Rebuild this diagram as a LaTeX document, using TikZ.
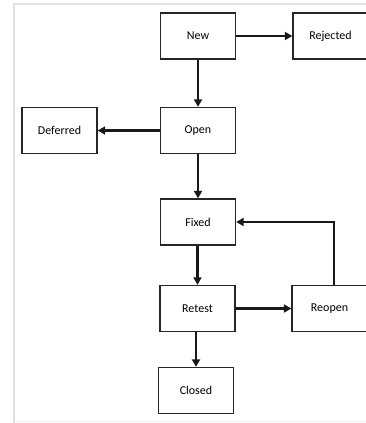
\documentclass[tikz,border=0pt]{standalone}
\usepackage{fontspec}
\setmainfont{Carlito}
\usetikzlibrary{arrows.meta}
\tikzset{
  state/.style={draw=black!85, line width=1.3pt, fill=white, inner sep=0pt,
    minimum width=75pt, minimum height=46pt, font=\fontsize{12}{14}\selectfont},
  flow/.style={-{Triangle[length=7.5pt, width=8pt]}, line width=2.2pt, black!90},
  frameline/.style={black!12, line width=1.6pt},
}

\begin{document}
\begin{tikzpicture}[x=1pt, y=-1pt]
    \clip (0,0) rectangle (366,423);
    \fill[white] (0,0) rectangle (366,423);
    % ---------------- faint page frame ----------------
    \draw[frameline] (14,423) -- (14,4) -- (370,4);
    \draw[black!6, line width=1pt] (14,421) -- (370,421);
    % ---------------- states ----------------
    \node[state] (new)      at (198,36)    {New};
    \node[state] (rejected) at (330.5,36)  {Rejected};
    \node[state] (deferred) at (59.5,130.5) {Deferred};
    \node[state] (open)     at (198,130.5) {Open};
    \node[state] (fixed)    at (198,222)   {Fixed};
    \node[state] (retest)   at (197.5,308.5) {Retest};
    \node[state] (reopen)   at (329.5,308.5) {Reopen};
    \node[state] (closed)   at (196,390.5) {Closed};
    % ---------------- transitions ----------------
    \draw[flow] (new) -- (rejected);
    \draw[flow] (new) -- (open);
    \draw[flow] (open) -- (deferred);
    \draw[flow] (open) -- (fixed);
    \draw[flow] (retest |- fixed.south) -- (retest.north);
    \draw[flow] (retest) -- (reopen);
    \draw[flow] (closed |- retest.south) -- (closed.north);
    \draw[flow] ([xshift=4.5pt]reopen.north) |- (fixed.east);
  \end{tikzpicture}
\end{document}
